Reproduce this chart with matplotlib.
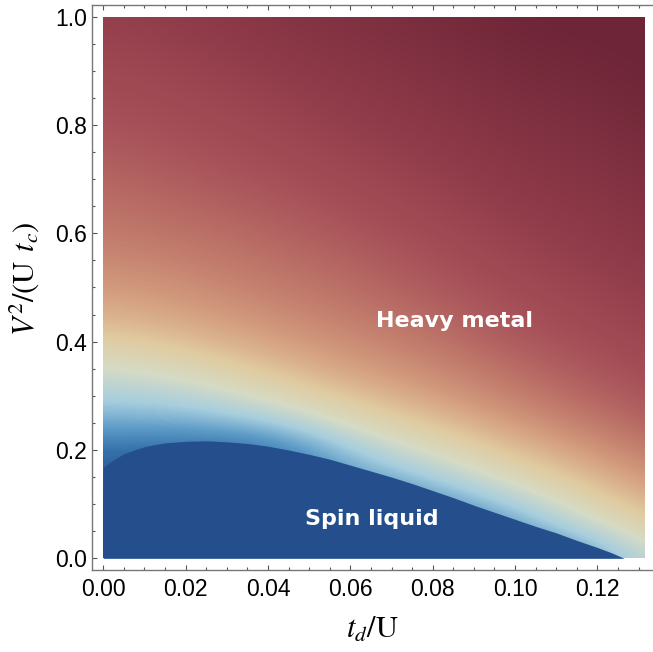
import numpy as np
import matplotlib
matplotlib.use("Agg")
import matplotlib.pyplot as plt
from matplotlib.colors import LinearSegmentedColormap
from matplotlib.patches import Rectangle

# colour scale, low (spin liquid) -> high (heavy metal)
tone_colors = ["#244f8c", "#3572ab", "#5f9dc8", "#a7cede", "#d6dbc4", "#e0cba0",
               "#d6a282", "#c27c6c", "#aa555b", "#903b49", "#6d2537"]

# sampled order-parameter map: one list per t_d column, V^2 rows from 0 to 1 (step 0.05)
td_cols = [0.00, 0.02, 0.04, 0.06, 0.08, 0.10, 0.12, 0.14]
v2_rows = np.linspace(0.0, 1.0, 21)
levels = [
    [0.0, 0.0, 0.0, 0.03, 0.10, 0.226, 0.314, 0.386, 0.48, 0.557, 0.617, 0.658, 0.70, 0.726, 0.753, 0.779, 0.804, 0.823, 0.842, 0.861, 0.88],
    [0.0, 0.0, 0.0, 0.03, 0.08, 0.23, 0.333, 0.436, 0.523, 0.60, 0.645, 0.691, 0.724, 0.753, 0.782, 0.807, 0.826, 0.844, 0.863, 0.881, 0.90],
    [0.0, 0.0, 0.0, 0.04, 0.10, 0.283, 0.42, 0.517, 0.60, 0.65, 0.695, 0.725, 0.755, 0.785, 0.81, 0.832, 0.852, 0.873, 0.893, 0.91, 0.925],
    [0.0, 0.0, 0.05, 0.20, 0.30, 0.42, 0.52, 0.605, 0.655, 0.70, 0.735, 0.765, 0.795, 0.82, 0.843, 0.866, 0.888, 0.903, 0.918, 0.933, 0.945],
    [0.0, 0.0, 0.18, 0.305, 0.415, 0.515, 0.605, 0.665, 0.713, 0.752, 0.787, 0.812, 0.835, 0.857, 0.878, 0.897, 0.912, 0.926, 0.94, 0.953, 0.965],
    [0.0, 0.2, 0.31, 0.43, 0.53, 0.62, 0.69, 0.74, 0.785, 0.812, 0.835, 0.857, 0.878, 0.897, 0.912, 0.926, 0.94, 0.954, 0.968, 0.982, 0.995],
    [0.22, 0.35, 0.465, 0.555, 0.635, 0.71, 0.765, 0.803, 0.828, 0.85, 0.87, 0.89, 0.905, 0.918, 0.931, 0.944, 0.957, 0.97, 0.983, 0.995, 1.0],
    [0.42, 0.515, 0.595, 0.675, 0.74, 0.79, 0.82, 0.845, 0.868, 0.89, 0.905, 0.918, 0.931, 0.944, 0.957, 0.97, 0.983, 0.995, 1.0, 1.0, 1.0],
]

# spin liquid phase boundary
sl_td = [0.0, 0.0025, 0.005, 0.0075, 0.01, 0.0125, 0.015, 0.02, 0.025, 0.03, 0.035,
         0.04, 0.045, 0.05, 0.055, 0.06, 0.065, 0.07, 0.075, 0.08, 0.085, 0.09,
         0.095, 0.10, 0.105, 0.11, 0.115, 0.12, 0.1235, 0.1265]
sl_v2 = [0.168, 0.182, 0.193, 0.200, 0.206, 0.210, 0.213, 0.216, 0.217, 0.215, 0.212,
         0.207, 0.200, 0.192, 0.183, 0.172, 0.161, 0.150, 0.138, 0.125, 0.112, 0.098,
         0.085, 0.072, 0.059, 0.047, 0.033, 0.020, 0.010, 0.0]

td_max = 0.1315
xticks = [0.00, 0.02, 0.04, 0.06, 0.08, 0.10, 0.12]
yticks = [0.0, 0.2, 0.4, 0.6, 0.8, 1.0]

cmap = LinearSegmentedColormap.from_list("tones", tone_colors)
z = np.array(levels).T  # rows = V^2, cols = t_d

fig = plt.figure(figsize=(6.53, 6.52), dpi=100)
ax = fig.add_axes([0.1413, 0.1258, 0.8663, 0.8666])

dx = (td_cols[1] - td_cols[0]) / 2
dy = (v2_rows[1] - v2_rows[0]) / 2
im = ax.imshow(z, origin="lower", aspect="auto", cmap=cmap, vmin=0, vmax=1,
               extent=[td_cols[0] - dx, td_cols[-1] + dx, v2_rows[0] - dy, v2_rows[-1] + dy],
               interpolation="bicubic", interpolation_stage="data")
im.set_clip_path(Rectangle((0, 0), td_max, 1.0, transform=ax.transData))

ax.fill_between(sl_td, 0, sl_v2, color=tone_colors[0], lw=0)

ax.text(0.0854, 0.4264, "Heavy metal", color="white", fontsize=16, fontweight="bold",
        family="DejaVu Sans", ha="center", va="baseline")
ax.text(0.0652, 0.0615, "Spin liquid", color="white", fontsize=16, fontweight="bold",
        family="DejaVu Sans", ha="center", va="baseline")

ax.set_xlim(-0.00267, 0.1347)
ax.set_ylim(-0.0215, 1.0215)

ax.set_xticks(xticks)
ax.set_xticklabels([f"{t:.2f}" for t in xticks])
ax.set_xticks(np.arange(0, 0.1316, 0.005), minor=True)
ax.set_yticks(yticks)
ax.set_yticklabels([f"{t:.1f}" for t in yticks])
ax.set_yticks(np.arange(0, 1.001, 0.05), minor=True)

for lab in ax.get_xticklabels() + ax.get_yticklabels():
    lab.set_family("Liberation Sans")
    lab.set_fontsize(16.5)

ax.tick_params(which="both", direction="in", top=True, right=True, color="#555555", width=0.8)
ax.tick_params(which="major", length=3.8)
ax.tick_params(which="minor", length=2.2)
ax.tick_params(axis="x", pad=6)
ax.tick_params(axis="y", pad=4)
for sp in ax.spines.values():
    sp.set_color("#777777")
    sp.set_linewidth(1.0)
ax.spines["right"].set_visible(False)

plt.rcParams["mathtext.fontset"] = "stix"
fig.text(0.5705, 0.034, r"$t_d/\mathrm{U}$", fontsize=22, ha="center", va="center")
fig.text(0.037, 0.573, r"$V^2/(\mathrm{U}\;\,t_c)$", fontsize=22, rotation=90,
         ha="center", va="center")

fig.savefig("out.png", dpi=100)
